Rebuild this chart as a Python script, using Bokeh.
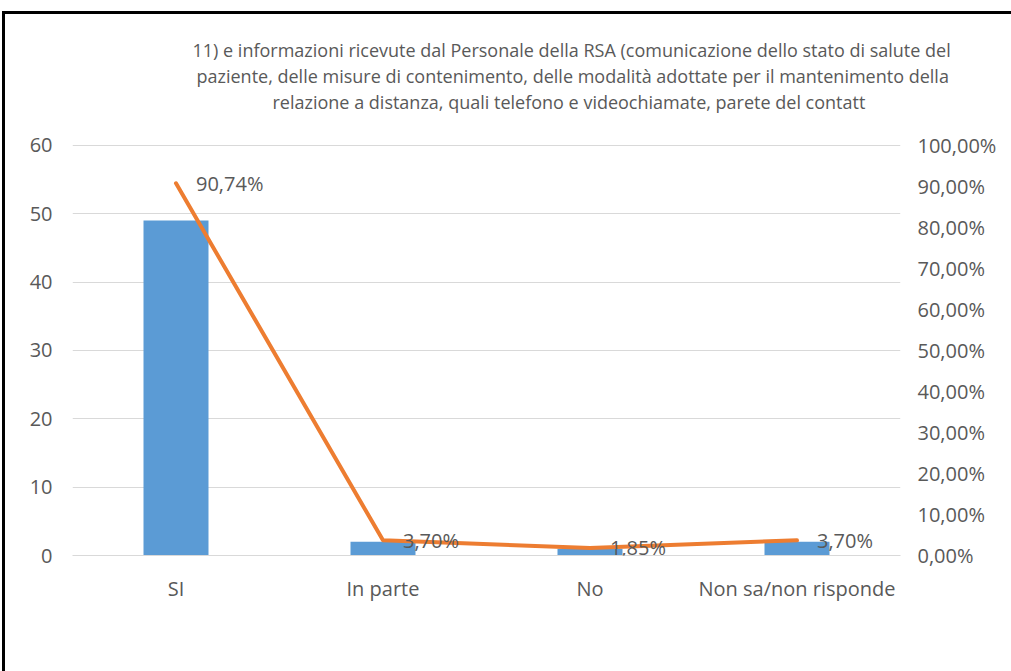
from bokeh.plotting import figure
from bokeh.models import (Range1d, LinearAxis, FixedTicker, ColumnDataSource, LabelSet,
                          Title, Legend, LegendItem, FactorRange)
from bokeh.core.properties import value
from bokeh.embed import file_html
from bokeh.resources import INLINE

# ---- data ----
categories = ["SI", "In parte", "No", "Non sa/non risponde"]
va_values = [49, 2, 1, 2]
pct_values = [0.9074, 0.0370, 0.0185, 0.0370]
left_ticks = [0, 10, 20, 30, 40, 50, 60]
right_ticks = [0.0, 0.1, 0.2, 0.3, 0.4, 0.5, 0.6, 0.7, 0.8, 0.9, 1.0]
title_lines = [
    "11) e informazioni ricevute dal Personale della RSA (comunicazione dello stato di salute del",
    "paziente, delle misure di contenimento, delle modalità adottate per il mantenimento della",
    "relazione a distanza, quali telefono e videochiamate, parete del contatt",
]
series_names = ["V.A.", "%"]

FONT = "Open Sans"
GREY = "#595959"
BLUE = "#5B9BD5"
ORANGE = "#ED7D31"
GRID = "#D9D9D9"

def pct_fmt(v):
    return f"{v * 100:.2f}%".replace(".", ",")

src = ColumnDataSource(dict(
    cat=categories, va=va_values, pct=pct_values,
    pct_label=[pct_fmt(v) for v in pct_values],
))

p = figure(
    frame_width=828, frame_height=442,
    x_range=FactorRange(*categories, range_padding=0),
    y_range=Range1d(0, 64.65),
    output_backend="svg", toolbar_location=None,
    min_border_left=72, min_border_right=111, min_border_top=0, min_border_bottom=0,
)
p.outline_line_color = None
p.border_fill_color = None
p.styles = {"box-shadow": "inset 0 11px 0 0 white, inset 2px 0 0 0 white, "
                          "inset 0 14px 0 0 black, inset 5px 0 0 0 black"}
p.extra_y_ranges = {"pct": Range1d(0, 1.0776)}

bars = p.vbar(x="cat", top="va", width=0.314, source=src, fill_color=BLUE, line_color=None)
line = p.line(x="cat", y="pct", source=src, y_range_name="pct",
              line_color=ORANGE, line_width=4, line_cap="round", line_join="round")

labels = LabelSet(x="cat", y="pct", text="pct_label", source=src, y_range_name="pct",
                  x_offset=20, text_align="left", text_baseline="middle",
                  text_font=value(FONT), text_font_size="20px", text_color=GREY)
p.add_layout(labels)

# axes
p.yaxis.ticker = FixedTicker(ticks=left_ticks)
p.ygrid.ticker = FixedTicker(ticks=left_ticks)
p.ygrid.grid_line_color = GRID
p.xgrid.grid_line_color = None

ya = p.yaxis[0]
ya.axis_line_color = None
ya.major_tick_line_color = None
ya.minor_tick_line_color = None
ya.major_label_standoff = 14
ya.major_label_text_font = FONT
ya.major_label_text_font_size = "20px"
ya.major_label_text_color = GREY

right = LinearAxis(y_range_name="pct", ticker=FixedTicker(ticks=right_ticks))
right.major_label_overrides = {t: pct_fmt(t) for t in right_ticks}
right.axis_line_color = None
right.major_tick_line_color = None
right.minor_tick_line_color = None
right.major_label_standoff = 11
right.major_label_text_font = FONT
right.major_label_text_font_size = "20px"
right.major_label_text_color = GREY
p.add_layout(right, "right")

xa = p.xaxis[0]
xa.axis_line_color = GRID
xa.major_tick_line_color = None
xa.minor_tick_line_color = None
xa.major_label_standoff = 13
xa.major_label_text_font = FONT
xa.major_label_text_font_size = "20px"
xa.major_label_text_color = GREY

# title lines, stacked above the frame (first added is nearest to the frame)
title_offsets = [120, 124, 200]
for txt, off in reversed(list(zip(title_lines, title_offsets))):
    p.add_layout(Title(text=txt, align="left", offset=off, standoff=0,
                       text_font=FONT, text_font_size="18px", text_color=GREY,
                       text_font_style="normal"), "above")
p.add_layout(Title(text=" ", align="left", standoff=9, text_font=FONT,
                   text_font_size="18px"), "above")

legend = Legend(items=[LegendItem(label=series_names[0], renderers=[bars]),
                       LegendItem(label=series_names[1], renderers=[line])],
                orientation="horizontal", location="top_center")
legend.label_text_font = FONT
legend.label_text_font_size = "19px"
legend.label_text_color = GREY
legend.border_line_color = None
legend.background_fill_alpha = 0
legend.glyph_width = 48
legend.glyph_height = 11
legend.label_standoff = 2
legend.spacing = 15
legend.margin = 22
legend.padding = 4
p.add_layout(legend, "below")

open("out.html", "w").write(file_html(p, INLINE))
